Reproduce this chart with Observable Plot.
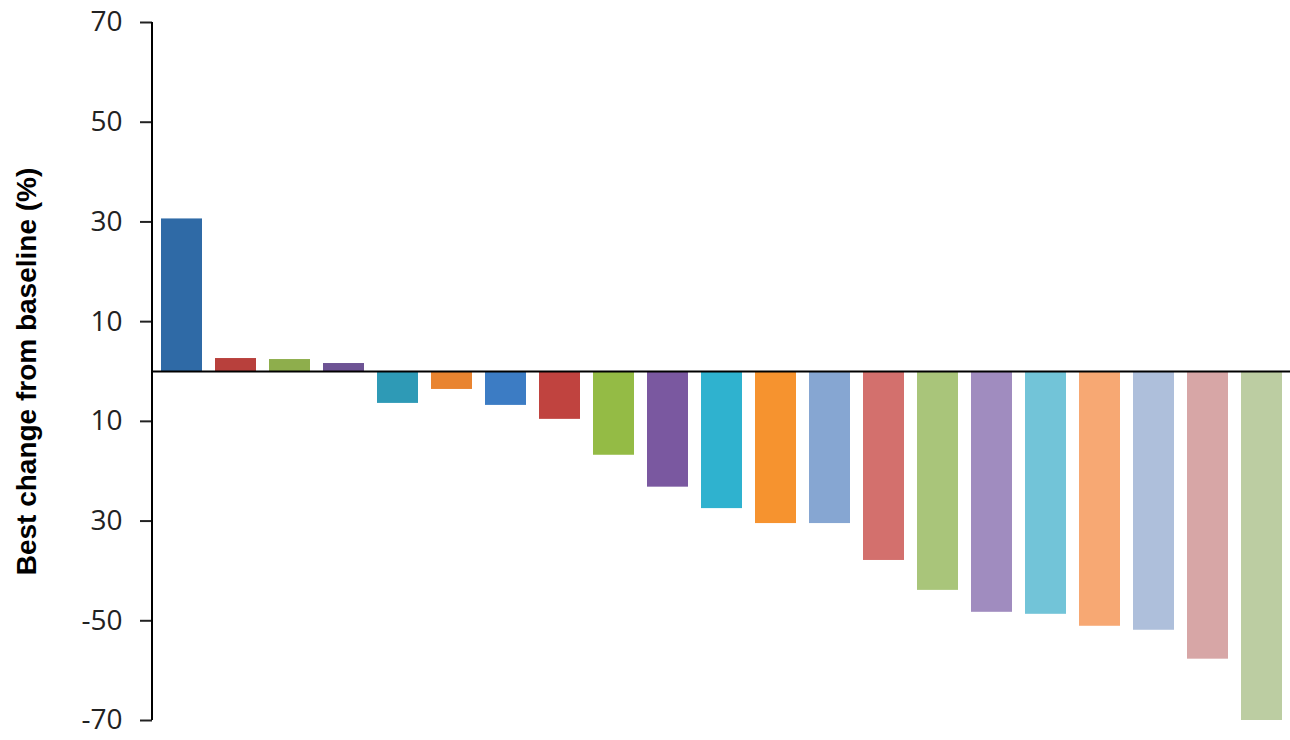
<!DOCTYPE html>
<html>
<head>
<meta charset="utf-8">
<script src="https://cdn.jsdelivr.net/npm/d3@7"></script>
<script src="https://cdn.jsdelivr.net/npm/@observablehq/plot@0.6"></script>
<style>
  body { margin: 0; background: #fff; }
</style>
</head>
<body>
<div id="chart"></div>
<script>
// one bar per patient, ordered as in the picture
const patients = d3.range(1, 22);
const bestChange = [30.6, 2.6, 2.4, 1.6, -6.4, -3.6, -6.8, -9.6, -16.8, -23.2, -27.5,
  -30.5, -30.5, -37.9, -43.9, -48.3, -48.7, -51.1, -51.9, -57.7, -70];
const barColors = ["#2f6aa6", "#b8403c", "#8eae4c", "#6d5394", "#2e9ab6", "#e98430",
  "#3c7cc4", "#c0433f", "#94bb45", "#7a58a0", "#2fb2cf", "#f6932f",
  "#86a6d2", "#d3706d", "#a9c57a", "#a08cbf", "#72c4d8", "#f7a873",
  "#aebfdb", "#d7a6a6", "#bccda2"];
const yTicks = [70, 50, 30, 10, -10, -30, -50, -70];
const yTickLabels = ["70", "50", "30", "10", "10", "30", "-50", "-70"];

const data = patients.map((p, i) => ({ patient: p, value: bestChange[i], color: barColors[i] }));
const tickFormat = (d) => yTickLabels[yTicks.indexOf(d)];

const plot = Plot.plot({
  width: 1290,
  height: 740,
  marginLeft: 152,
  marginRight: 0,
  marginTop: 22,
  marginBottom: 20,
  style: { fontFamily: "Open Sans, sans-serif", fontSize: "28px", color: "#222" },
  x: { domain: patients, paddingInner: 0.25, paddingOuter: 0.05, axis: null },
  y: { domain: [-70, 70], label: null, axis: null },
  marks: [
    Plot.barY(data, { x: "patient", y: "value", fill: "color" }),
    Plot.ruleY([0], { stroke: "black", strokeWidth: 2 }),
    Plot.axisY({ ticks: yTicks, tickFormat, tickSize: 12, tickPadding: 18, label: null, strokeWidth: 2 }),
    Plot.text(["Best change from baseline (%)"], {
      frameAnchor: "left", textAnchor: "middle", dx: -125, rotate: -90,
      fontSize: 28, fontWeight: "bold", fontFamily: "Liberation Sans, Arial, sans-serif", fill: "black"
    })
  ]
});

// vertical axis line along the left of the frame
const y = plot.scale("y");
d3.select(plot).append("line")
  .attr("x1", 152).attr("x2", 152)
  .attr("y1", y.apply(70)).attr("y2", y.apply(-70))
  .attr("stroke", "black").attr("stroke-width", 2);

document.getElementById("chart").append(plot);
</script>
</body>
</html>
